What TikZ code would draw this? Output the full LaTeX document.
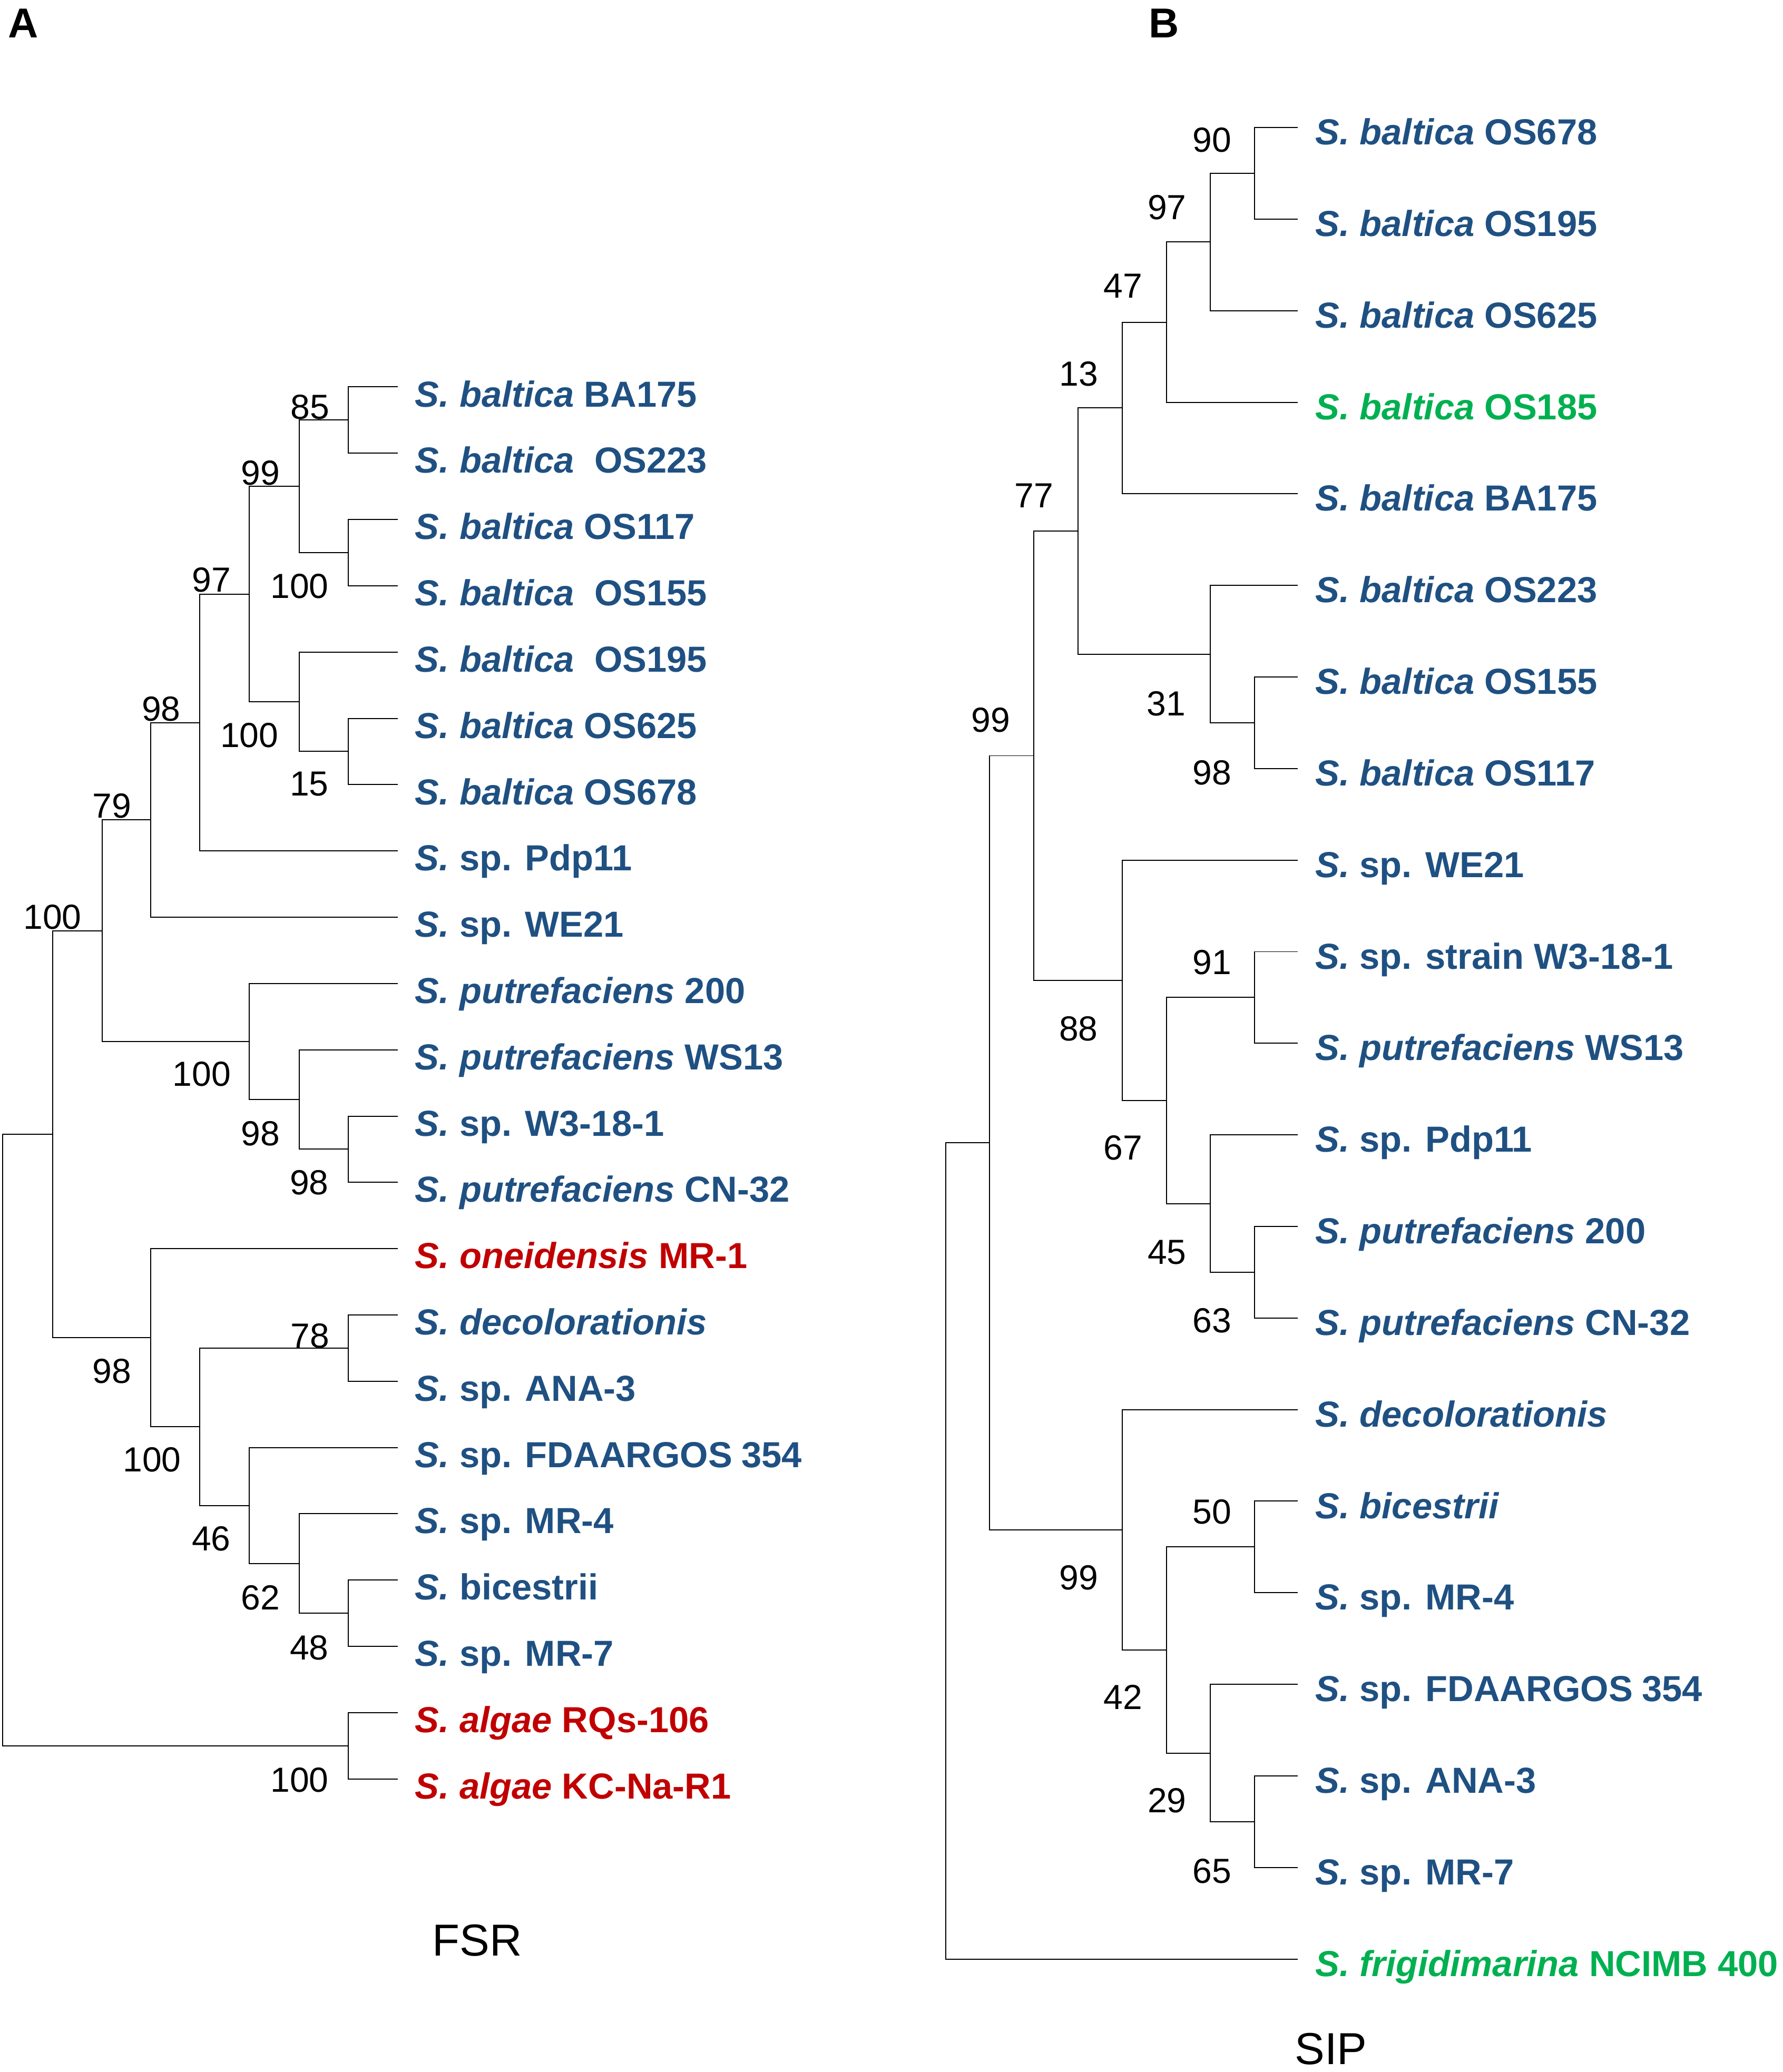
\documentclass[tikz,border=0pt]{standalone}
\usepackage{fontspec}
\setmainfont{Liberation Sans}
\usetikzlibrary{calc}
\definecolor{tblue}{RGB}{31,80,130}
\definecolor{tred}{RGB}{192,0,0}
\definecolor{tgreen}{RGB}{0,176,80}
\begin{document}
\begin{tikzpicture}[x=0.02cm,y=-0.02cm,
  branch/.style={draw=black,line width=0.45pt},
  leaf/.style={anchor=base west,inner sep=0pt,font=\bfseries\fontsize{15.6}{18}\selectfont,text=tblue},
  boot/.style={anchor=base east,inner sep=0pt,font=\fontsize{15}{18}\selectfont},
  panel/.style={anchor=base west,inner sep=0pt,font=\bfseries\fontsize{18}{20}\selectfont},
  caption/.style={anchor=base,inner sep=0pt,font=\fontsize{19.3}{22}\selectfont}]
\useasboundingbox (0,0) rectangle (1349,1568);

% ---------------- panel labels ----------------
\node[panel] (pA) at (6,28.7) {A};
\node[panel] (pB) at (869,28.7) {B};

% ---------------- Panel A: leaves ----------------
\foreach \i/\y in {1/292.8,2/343.0,3/393.1,4/443.3,5/493.4,6/543.6,7/593.8,8/643.9,9/694.1,10/744.2,11/794.4,12/844.6,13/894.7,14/944.9,15/995.0,16/1045.2,17/1095.4,18/1145.5,19/1195.7,20/1245.8,21/1296.0,22/1346.2}
  \coordinate (a\i) at (300.8,\y);

\node[leaf] (ta1)  at ($(a1)+(13,15)$)  {\textit{S. baltica} BA175};
\node[leaf] (ta2)  at ($(a2)+(13,15)$)  {\textit{S. baltica}\ \ OS223};
\node[leaf] (ta3)  at ($(a3)+(13,15)$)  {\textit{S. baltica} OS117};
\node[leaf] (ta4)  at ($(a4)+(13,15)$)  {\textit{S. baltica}\ \ OS155};
\node[leaf] (ta5)  at ($(a5)+(13,15)$)  {\textit{S. baltica}\ \ OS195};
\node[leaf] (ta6)  at ($(a6)+(13,15)$)  {\textit{S. baltica} OS625};
\node[leaf] (ta7)  at ($(a7)+(13,15)$)  {\textit{S. baltica} OS678};
\node[leaf] (ta8)  at ($(a8)+(13,15)$)  {\textit{S.} sp. Pdp11};
\node[leaf] (ta9)  at ($(a9)+(13,15)$)  {\textit{S.} sp. WE21};
\node[leaf] (ta10) at ($(a10)+(13,15)$) {\textit{S. putrefaciens} 200};
\node[leaf] (ta11) at ($(a11)+(13,15)$) {\textit{S. putrefaciens} WS13};
\node[leaf] (ta12) at ($(a12)+(13,15)$) {\textit{S.} sp. W3-18-1};
\node[leaf] (ta13) at ($(a13)+(13,15)$) {\textit{S. putrefaciens} CN-32};
\node[leaf,text=tred] (ta14) at ($(a14)+(13,15)$) {\textit{S. oneidensis} MR-1};
\node[leaf] (ta15) at ($(a15)+(13,15)$) {\textit{S. decolorationis}};
\node[leaf] (ta16) at ($(a16)+(13,15)$) {\textit{S.} sp. ANA-3};
\node[leaf] (ta17) at ($(a17)+(13,15)$) {\textit{S.} sp. FDAARGOS\hspace{0.25em}354};
\node[leaf] (ta18) at ($(a18)+(13,15)$) {\textit{S.} sp. MR-4};
\node[leaf] (ta19) at ($(a19)+(13,15)$) {\textit{S.} bicestrii};
\node[leaf] (ta20) at ($(a20)+(13,15)$) {\textit{S.} sp. MR-7};
\node[leaf,text=tred] (ta21) at ($(a21)+(13,15)$) {\textit{S. algae} RQs-106};
\node[leaf,text=tred] (ta22) at ($(a22)+(13,15)$) {\textit{S. algae} KC-Na-R1};

% ---------------- Panel A: internal nodes ----------------
\coordinate (n85)   at (263.4,317.9);
\coordinate (n100a) at (263.4,418.2);
\coordinate (n99)   at (226.4,368.05);
\coordinate (n15)   at (263.4,568.7);
\coordinate (n100b) at (226.4,531.1);
\coordinate (n97)   at (188.6,449.6);
\coordinate (n98a)  at (151.2,546.8);
\coordinate (n79)   at (114.2,620.4);
\coordinate (n98c)  at (263.4,869.6);
\coordinate (n98b)  at (226.4,832.0);
\coordinate (n100c) at (188.6,788.1);
\coordinate (n100d) at (77.2,704.3);
\coordinate (n78)   at (263.4,1020.1);
\coordinate (n48)   at (263.4,1220.8);
\coordinate (n62)   at (226.4,1183.2);
\coordinate (n46)   at (188.6,1139.3);
\coordinate (n100e) at (151.2,1079.7);
\coordinate (n98d)  at (114.2,1012.3);
\coordinate (ntop)  at (39.8,858.3);
\coordinate (n100f) at (263.4,1321.1);
\coordinate (rootA) at (2,1089.7);

\foreach \p/\c in {n85/a1,n85/a2,n100a/a3,n100a/a4,n99/n85,n99/n100a,
  n15/a6,n15/a7,n100b/a5,n100b/n15,n97/n99,n97/n100b,n98a/n97,n98a/a8,
  n79/n98a,n79/a9,n98c/a12,n98c/a13,n98b/a11,n98b/n98c,n100c/a10,n100c/n98b,
  n100d/n79,n100d/n100c,n78/a15,n78/a16,n48/a19,n48/a20,n62/a18,n62/n48,
  n46/a17,n46/n62,n100e/n78,n100e/n46,n98d/a14,n98d/n100e,ntop/n100d,ntop/n98d,
  n100f/a21,n100f/a22,rootA/ntop,rootA/n100f}
  \draw[branch] (\p) |- (\c);

% ---------------- Panel A: bootstrap values ----------------
\node[boot] (ba1)  at (249.6,317)   {85};
\node[boot] (ba2)  at (212,367)     {99};
\node[boot] (ba3)  at (249,452.6)   {100};
\node[boot] (ba4)  at (175,448)     {97};
\node[boot] (ba5)  at (211,565.5)   {100};
\node[boot] (ba6)  at (249,602)     {15};
\node[boot] (ba7)  at (137,545.7)   {98};
\node[boot] (ba8)  at (99.6,619)    {79};
\node[boot] (ba9)  at (62,703)      {100};
\node[boot] (ba10) at (175,822)     {100};
\node[boot] (ba11) at (212,867)     {98};
\node[boot] (ba12) at (249,904)     {98};
\node[boot] (ba13) at (99.6,1046.7) {98};
\node[boot] (ba14) at (249.6,1020)  {78};
\node[boot] (ba15) at (137.4,1113.8) {100};
\node[boot] (ba16) at (174.8,1173.3) {46};
\node[boot] (ba17) at (212.2,1218)  {62};
\node[boot] (ba18) at (249,1256)    {48};
\node[boot] (ba19) at (249,1356)    {100};

\node[caption] (capA) at (361,1480) {FSR};

% ---------------- Panel B: leaves ----------------
\foreach \i/\y in {1/96.5,2/165.8,3/235.1,4/304.4,5/373.7,6/443.0,7/512.3,8/581.6,9/650.9,10/720.2,11/789.5,12/858.8,13/928.1,14/997.4,15/1066.7,16/1136.0,17/1205.3,18/1274.6,19/1343.9,20/1413.2,21/1482.5}
  \coordinate (b\i) at (982,\y);

\node[leaf] (tb1)  at ($(b1)+(13,13)$)  {\textit{S. baltica} OS678};
\node[leaf] (tb2)  at ($(b2)+(13,13)$)  {\textit{S. baltica} OS195};
\node[leaf] (tb3)  at ($(b3)+(13,13)$)  {\textit{S. baltica} OS625};
\node[leaf,text=tgreen] (tb4) at ($(b4)+(13,13)$) {\textit{S. baltica} OS185};
\node[leaf] (tb5)  at ($(b5)+(13,13)$)  {\textit{S. baltica} BA175};
\node[leaf] (tb6)  at ($(b6)+(13,13)$)  {\textit{S. baltica} OS223};
\node[leaf] (tb7)  at ($(b7)+(13,13)$)  {\textit{S. baltica} OS155};
\node[leaf] (tb8)  at ($(b8)+(13,13)$)  {\textit{S. baltica} OS117};
\node[leaf] (tb9)  at ($(b9)+(13,13)$)  {\textit{S.} sp. WE21};
\node[leaf] (tb10) at ($(b10)+(13,13)$) {\textit{S.} sp. strain W3-18-1};
\node[leaf] (tb11) at ($(b11)+(13,13)$) {\textit{S. putrefaciens} WS13};
\node[leaf] (tb12) at ($(b12)+(13,13)$) {\textit{S.} sp. Pdp11};
\node[leaf] (tb13) at ($(b13)+(13,13)$) {\textit{S. putrefaciens} 200};
\node[leaf] (tb14) at ($(b14)+(13,13)$) {\textit{S. putrefaciens} CN-32};
\node[leaf] (tb15) at ($(b15)+(13,13)$) {\textit{S. decolorationis}};
\node[leaf] (tb16) at ($(b16)+(13,13)$) {\textit{S. bicestrii}};
\node[leaf] (tb17) at ($(b17)+(13,13)$) {\textit{S.} sp. MR-4};
\node[leaf] (tb18) at ($(b18)+(13,13)$) {\textit{S.} sp. FDAARGOS\hspace{0.25em}354};
\node[leaf] (tb19) at ($(b19)+(13,13)$) {\textit{S.} sp. ANA-3};
\node[leaf] (tb20) at ($(b20)+(13,13)$) {\textit{S.} sp. MR-7};
\node[leaf,text=tgreen] (tb21) at ($(b21)+(13,13)$) {\textit{S. frigidimarina} NCIMB 400};

% ---------------- Panel B: internal nodes ----------------
\coordinate (m90)   at (949.4,131.15);
\coordinate (m97)   at (915.9,183.1);
\coordinate (m47)   at (882.5,243.8);
\coordinate (m13)   at (849.1,308.7);
\coordinate (m98)   at (949.4,546.95);
\coordinate (m31)   at (915.9,495.0);
\coordinate (m77)   at (815.7,401.9);
\coordinate (m91)   at (949.4,754.85);
\coordinate (m63)   at (949.4,962.75);
\coordinate (m45)   at (915.9,910.8);
\coordinate (m67)   at (882.5,832.8);
\coordinate (m88)   at (849.1,741.9);
\coordinate (m99a)  at (782.3,571.9);
\coordinate (m50)   at (949.4,1170.65);
\coordinate (m65)   at (949.4,1378.55);
\coordinate (m29)   at (915.9,1326.6);
\coordinate (m42)   at (882.5,1248.6);
\coordinate (m99b)  at (849.1,1157.7);
\coordinate (m99c)  at (748.9,864.8);
\coordinate (rootB) at (715.8,1173.6);

\foreach \p/\c in {m90/b1,m90/b2,m97/m90,m97/b3,m47/m97,m47/b4,m13/m47,m13/b5,
  m98/b7,m98/b8,m31/b6,m31/m98,m77/m13,m77/m31,m91/b10,m91/b11,m63/b13,m63/b14,
  m45/b12,m45/m63,m67/m91,m67/m45,m88/b9,m88/m67,m99a/m77,m99a/m88,
  m50/b16,m50/b17,m65/b19,m65/b20,m29/b18,m29/m65,m42/m50,m42/m29,
  m99b/b15,m99b/m42,m99c/m99a,m99c/m99b,rootB/m99c,rootB/b21}
  \draw[branch] (\p) |- (\c);

% ---------------- Panel B: bootstrap values ----------------
\node[boot] (bb1)  at (932,115)      {90};
\node[boot] (bb2)  at (898,166)      {97};
\node[boot] (bb3)  at (864.6,225.3)  {47};
\node[boot] (bb4)  at (831.2,292)    {13};
\node[boot] (bb5)  at (797.3,384)    {77};
\node[boot] (bb6)  at (897.5,541.5)  {31};
\node[boot] (bb7)  at (932,594)      {98};
\node[boot] (bb8)  at (764.7,554)    {99};
\node[boot] (bb9)  at (932,737.5)    {91};
\node[boot] (bb10) at (831,787.5)    {88};
\node[boot] (bb11) at (864.6,877.5)  {67};
\node[boot] (bb12) at (898,956.5)    {45};
\node[boot] (bb13) at (932,1008.5)   {63};
\node[boot] (bb14) at (932,1153)     {50};
\node[boot] (bb15) at (831.2,1203)   {99};
\node[boot] (bb16) at (864.6,1293.3) {42};
\node[boot] (bb17) at (898,1371.6)   {29};
\node[boot] (bb18) at (932,1425)     {65};

\node[caption] (capB) at (1007,1562) {SIP};
\end{tikzpicture}
\end{document}
